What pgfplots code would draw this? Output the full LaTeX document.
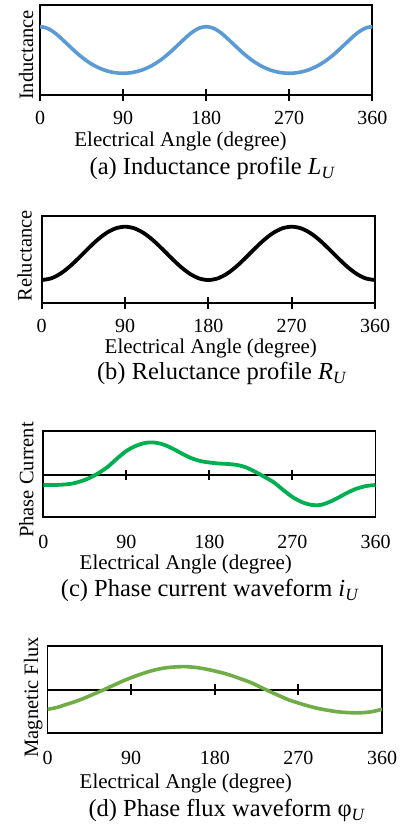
\documentclass[border=0pt]{standalone}
\usepackage{fontspec}
\setmainfont{Liberation Serif}
\usepackage{pgfplots}
\pgfplotsset{compat=1.18}
\definecolor{blueL}{RGB}{91,155,213}
\definecolor{greenC}{RGB}{0,176,80}
\definecolor{greenD}{RGB}{112,173,71}
\newcommand{\tfont}{\fontsize{20bp}{20bp}\selectfont}
\newcommand{\lfont}{\fontsize{21bp}{22bp}\selectfont}
\newcommand{\yfont}{\fontsize{20.5bp}{22bp}\selectfont}
\newcommand{\cfont}{\fontsize{24.5bp}{26bp}\selectfont}
\pgfplotsset{
  panel/.style={
    scale only axis, xmin=0, xmax=360,
    xtick={0,90,180,270,360}, xticklabels={0,90,180,270,360},
    ytick=\empty, xtick pos=bottom, major tick length=0bp,
    xtick style={draw=none},
    axis line style={line width=1.8bp, black},
    xticklabel style={font=\tfont, anchor=base, inner sep=0pt},
  },
  tickmarks/.style={black, only marks, mark=|, mark size=#1,
    mark options={solid, black, line width=2bp}},
}
\begin{document}
\begin{tikzpicture}[x=1bp,y=1bp]
\useasboundingbox (0,0) rectangle (401,829);
% (a)
\begin{axis}[panel, at={(40bp,734bp)}, anchor=south west, width=332.3bp, height=90.3bp,
  ymin=0.462, ymax=1.740, xticklabel style={yshift=-30bp}]
\addplot[tickmarks=6bp] coordinates {(0,0.462)(90,0.462)(180,0.462)(270,0.462)(360,0.462)};
\addplot[blueL, line width=3.6bp, smooth] coordinates {
(0,1.4286)(5,1.4193)(10,1.3926)(15,1.3510)(20,1.2984)(30,1.1765)(40,1.0550)(50,0.9505)(60,0.8696)(70,0.8131)(80,0.7801)(90,0.7692)
(100,0.7801)(110,0.8131)(120,0.8696)(130,0.9505)(140,1.0550)(150,1.1765)(160,1.2984)(165,1.3510)(170,1.3926)(175,1.4193)(180,1.4286)
(185,1.4193)(190,1.3926)(195,1.3510)(200,1.2984)(210,1.1765)(220,1.0550)(230,0.9505)(240,0.8696)(250,0.8131)(260,0.7801)(270,0.7692)
(280,0.7801)(290,0.8131)(300,0.8696)(310,0.9505)(320,1.0550)(330,1.1765)(340,1.2984)(345,1.3510)(350,1.3926)(355,1.4193)(360,1.4286)};
\end{axis}
% (b)
\begin{axis}[panel, at={(41.7bp,526.3bp)}, anchor=south west, width=333.3bp, height=87bp,
  ymin=0.445, ymax=1.424, xticklabel style={yshift=-30bp}]
\addplot[tickmarks=6bp] coordinates {(0,0.445)(90,0.445)(180,0.445)(270,0.445)(360,0.445)};
\addplot[black, line width=3.8bp, smooth] coordinates {
(0,0.7)(10,0.7181)(20,0.7702)(30,0.85)(40,0.9479)(50,1.0521)(60,1.15)(70,1.2298)(80,1.2819)(90,1.3)
(100,1.2819)(110,1.2298)(120,1.15)(130,1.0521)(140,0.9479)(150,0.85)(160,0.7702)(170,0.7181)(180,0.7)
(190,0.7181)(200,0.7702)(210,0.85)(220,0.9479)(230,1.0521)(240,1.15)(250,1.2298)(260,1.2819)(270,1.3)
(280,1.2819)(290,1.2298)(300,1.15)(310,1.0521)(320,0.9479)(330,0.85)(340,0.7702)(350,0.7181)(360,0.7)};
\end{axis}
% (c)
\begin{axis}[panel, at={(43.3bp,311.7bp)}, anchor=south west, width=332.2bp, height=86.3bp,
  ymin=-42.3, ymax=44, xticklabel style={yshift=-31.7bp}]
\addplot[black, line width=1.8bp] coordinates {(0,0)(360,0)};
\addplot[tickmarks=5bp] coordinates {(90,0)(180,0)(270,0)};
\addplot[greenC, line width=3.8bp, smooth] coordinates {
(0,-10)(10,-10)(20,-9.7)(30,-8.8)(40,-6.5)(50,-3)(60,2)(70,8.3)(80,16.5)(90,24)
(100,29)(110,32)(120,32.5)(130,30.5)(140,26.5)(150,21.5)(160,17)(170,14)(180,12.5)
(190,11.5)(200,11)(210,10)(220,7.5)(230,3)(240,-2)(250,-7.5)(260,-15)(270,-22)
(280,-27)(290,-29.8)(300,-30)(310,-27)(320,-22.5)(330,-17.5)(340,-13.5)(350,-11)(360,-10)};
\end{axis}
% (d)
\begin{axis}[panel, at={(47.5bp,95.7bp)}, anchor=south west, width=334.5bp, height=87.3bp,
  ymin=-43.3, ymax=44, xticklabel style={yshift=-31bp}]
\addplot[black, line width=1.8bp] coordinates {(0,0)(360,0)};
\addplot[tickmarks=5.5bp] coordinates {(90,0)(180,0)(270,0)};
\addplot[greenD, line width=3.6bp, smooth] coordinates {
(0,-19.3)(10,-17.5)(20,-14.5)(30,-11.5)(40,-8)(50,-4)(60,0)(70,4.3)(80,8.5)(90,12.3)
(100,15.7)(110,18.7)(120,21)(130,22.5)(140,23.2)(150,23.3)(160,22.5)(170,21)(180,19)
(190,16.7)(200,13.8)(210,10.5)(220,7)(230,2.5)(240,-1.8)(250,-6)(260,-10)(270,-13)
(280,-15.8)(290,-18.2)(300,-20)(310,-21.5)(320,-22.4)(330,-22.8)(340,-22.6)(350,-21.5)(360,-19.3)};
\end{axis}
% axis titles and captions
\node[rotate=90, anchor=base, font=\yfont, inner sep=0pt] at (33,774) {Inductance};
\node[rotate=90, anchor=base, font=\yfont, inner sep=0pt] at (31.7,573) {Reluctance};
\node[rotate=90, anchor=base, font=\yfont, inner sep=0pt] at (33.3,349) {Phase Current};
\node[rotate=90, anchor=base, font=\yfont, inner sep=0pt] at (38,131.5) {Magnetic Flux};
\node[anchor=base, font=\lfont, inner sep=0pt] at (180.5,682.3) {Electrical Angle (degree)};
\node[anchor=base, font=\lfont, inner sep=0pt] at (210.8,475.7) {Electrical Angle (degree)};
\node[anchor=base, font=\lfont, inner sep=0pt] at (185.8,259) {Electrical Angle (degree)};
\node[anchor=base, font=\lfont, inner sep=0pt] at (185.8,40.7) {Electrical Angle (degree)};
\node[anchor=base, font=\cfont, inner sep=0pt] at (212.5,654) {(a) Inductance profile \textit{L}\textsubscript{\textit{U}}};
\node[anchor=base, font=\cfont, inner sep=0pt] at (222,449) {(b) Reluctance profile \textit{R}\textsubscript{\textit{U}}};
\node[anchor=base, font=\cfont, inner sep=0pt] at (210,232.3) {(c) Phase current waveform \textit{i}\textsubscript{\textit{U}}};
\node[anchor=base, font=\cfont, inner sep=0pt] at (227,12.3) {(d) Phase flux waveform φ\textsubscript{\textit{U}}};
\end{tikzpicture}
\end{document}
